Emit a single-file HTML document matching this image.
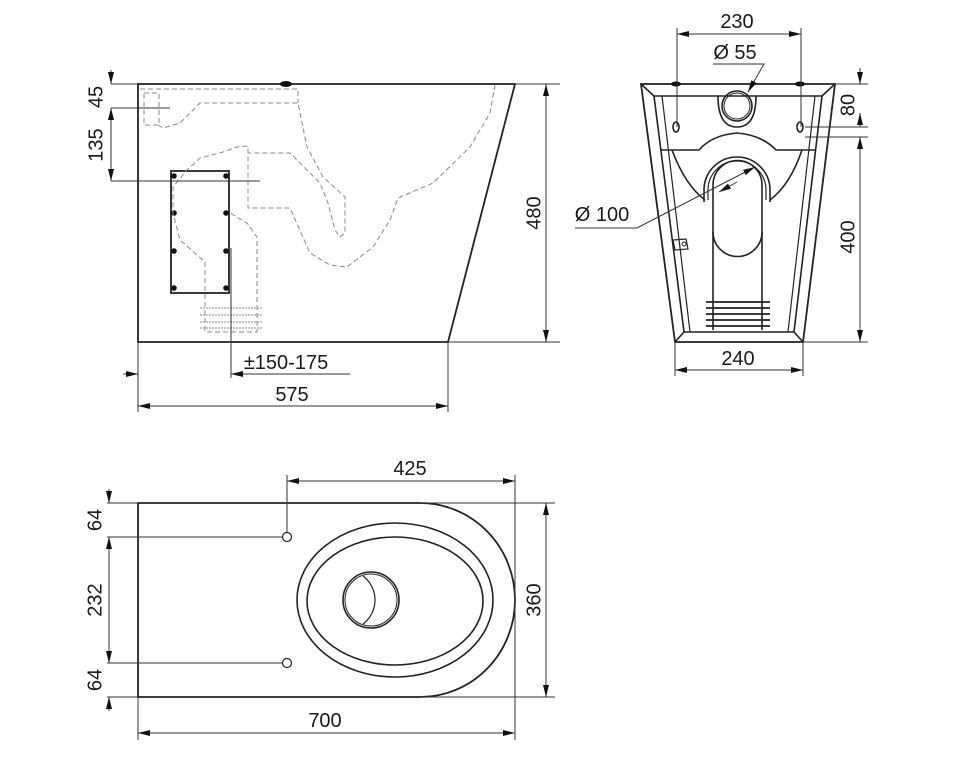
<!DOCTYPE html>
<html><head><meta charset="utf-8"><style>
html,body{margin:0;padding:0;background:#fff}
svg{display:block}
text{font-family:"Liberation Sans",sans-serif;font-size:20px;fill:#1a1a1a}
</style></head><body>
<svg width="964" height="777" viewBox="0 0 964 777" xmlns="http://www.w3.org/2000/svg">
<defs>
<marker id="a" viewBox="0 0 12 6" refX="12" refY="3" markerWidth="12" markerHeight="6" orient="auto-start-reverse" markerUnits="userSpaceOnUse"><path d="M0,0L12,3L0,6z" fill="#111"/></marker>
</defs>
<g stroke="#222" fill="none" stroke-width="1.6">
<path d="M138,84 L515,84 L448,342 L138,342 Z" stroke-width="1.8"/>
<rect x="171" y="171" width="58" height="122" stroke-width="1.8"/>
</g>
<g fill="#111">
<circle cx="174" cy="176" r="2.8"/><circle cx="226" cy="176" r="2.8"/>
<circle cx="174" cy="213" r="2.8"/><circle cx="226" cy="213" r="2.8"/>
<circle cx="174" cy="251" r="2.8"/><circle cx="226" cy="251" r="2.8"/>
<circle cx="174" cy="288" r="2.8"/><circle cx="226" cy="288" r="2.8"/>
<ellipse cx="286" cy="84" rx="6" ry="3"/>
</g>
<g stroke="#888" fill="none" stroke-width="1" stroke-dasharray="5,3">
<path d="M140,89 L298,89 L298,103"/>
<path d="M144,93 L159,93 L159,125 L144,125 Z"/>
<path d="M158,125 L163,128 L180,123 L200,103 L298,103 L307,147 L323,177 L345,197 L345,233 L340,237 L335,230 L328,203 L320,183 L290,153 L248,153"/>
<path d="M495,85 L490,113 L470,147 L433,183 L398,198 L390,220 L373,247 L347,267 L330,265 L310,253 L290,208 L248,208 L248,146 L237,147 L223,152 L200,158 L187,170 L173,187 L173,213 L180,240 L205,262 L205,332 L257,332 L257,237 L247,223 L230,213"/>
<path d="M200,308H262M200,315H262M200,322H262M200,328H262" stroke-dasharray="2,1"/>
</g>
<g stroke="#333" fill="none" stroke-width="1">
<path d="M111,84 H138 M111,108 H170 M111,181 H260"/>
<path d="M111,70 V84" marker-end="url(#a)"/>
<path d="M111,108 V181" marker-start="url(#a)" marker-end="url(#a)"/>
<path d="M515,84 H560 M448,342 H560"/>
<path d="M546,84 V342" marker-start="url(#a)" marker-end="url(#a)"/>
<path d="M138,342 V412 M448,342 V412 M231,248 V378"/>
<path d="M138,406 H448" marker-start="url(#a)" marker-end="url(#a)"/>
<path d="M123,374 H138" marker-end="url(#a)"/>
<path d="M231,374 H350" marker-start="url(#a)"/>
</g>
<text x="97" y="97" transform="rotate(-90 97 97)" text-anchor="middle" dominant-baseline="middle">45</text>
<text x="97" y="145" transform="rotate(-90 97 145)" text-anchor="middle" dominant-baseline="middle">135</text>
<text x="535" y="213" transform="rotate(-90 535 213)" text-anchor="middle" dominant-baseline="middle">480</text>
<text x="286" y="369" text-anchor="middle">±150-175</text>
<text x="292" y="401" text-anchor="middle">575</text>

<g stroke="#222" fill="none" stroke-width="1.6">
<path d="M641,84 L835,84 L803,342 L675,342 Z" stroke-width="1.8"/>
<path d="M654,96 L822,96 L794,332 L684,332 Z"/>
<path d="M641,84 L654,96 M835,84 L822,96 M803,342 L794,332 M675,342 L684,332"/>
<path d="M662,96 L690,332 M815,96 L788,332" stroke-width="1.2"/>
<path d="M718,96 Q718,127 737,127 Q756,127 756,96"/>
<circle cx="737" cy="106" r="15"/><circle cx="737" cy="106" r="13" stroke-width="1"/>
<ellipse cx="676" cy="127" rx="3" ry="5"/><ellipse cx="800" cy="127" rx="3" ry="5"/>
<path d="M661,150 L699,150 Q712,135 737,133 Q762,135 776,150 L815,150"/>
<path d="M672,150 Q685,185 705,200 M802,150 Q790,185 770,200"/>
<path d="M704,202 V190 A33,33 0 0 1 770,190 V202"/>
<path d="M708,200 V190 A29,29 0 0 1 766,190 V200" stroke-width="1.2"/>
<path d="M713,330 V185 A24.5,24.5 0 0 1 762,185 V330"/>
<path d="M713,232 A24.5,24.5 0 0 0 762,232"/>
<path d="M706,302H770M706,308H770M706,314H770M706,320H770M706,326H770" stroke-width="1.8"/>
<path d="M673,240 L686,239 L688,249 L675,250 Z" stroke-width="1.2"/>
<circle cx="684" cy="244" r="2" stroke-width="1"/>
</g>
<g fill="#111"><ellipse cx="676" cy="84" rx="5" ry="2.5"/><ellipse cx="800" cy="84" rx="5" ry="2.5"/></g>
<g stroke="#333" fill="none" stroke-width="1">
<path d="M677,28 V127 M801,28 V127"/>
<path d="M677,34 H801" marker-start="url(#a)" marker-end="url(#a)"/>
<path d="M713,64 H764 L748,92" marker-end="url(#a)"/>
<path d="M835,84 H868 M805,127 H868 M805,137 H868 M803,342 H868"/>
<path d="M860,68 V84" marker-end="url(#a)"/>
<path d="M860,127 V113" marker-end="url(#a)"/>
<path d="M860,137 V342" marker-start="url(#a)" marker-end="url(#a)"/>
<path d="M675,342 V376 M803,342 V376"/>
<path d="M675,370 H803" marker-start="url(#a)" marker-end="url(#a)"/>
<path d="M575,228 H637 L755,167" marker-end="url(#a)"/>
<path d="M737,182 L719,192" marker-end="url(#a)"/>
</g>
<text x="737" y="28" text-anchor="middle">230</text>
<text x="735" y="59" text-anchor="middle">Ø 55</text>
<text x="849" y="105" transform="rotate(-90 849 105)" text-anchor="middle" dominant-baseline="middle">80</text>
<text x="849" y="237" transform="rotate(-90 849 237)" text-anchor="middle" dominant-baseline="middle">400</text>
<text x="738" y="365" text-anchor="middle">240</text>
<text x="602" y="221" text-anchor="middle">Ø 100</text>

<g stroke="#222" fill="none" stroke-width="1.6">
<path d="M138,503 H420 A95,97 0 0 1 420,697 H138 Z" stroke-width="1.8"/>
<ellipse cx="395" cy="600" rx="98" ry="77"/>
<ellipse cx="395" cy="601" rx="88" ry="64"/>
<circle cx="371" cy="600" r="28"/><circle cx="371" cy="600" r="26" stroke-width="1"/>
<path d="M363,576 A30,30 0 0 1 363,624" stroke-width="1.2"/>
<circle cx="287" cy="537" r="4.5" stroke-width="1.2"/>
<circle cx="287" cy="663" r="4.5" stroke-width="1.2"/>
</g>
<g stroke="#333" fill="none" stroke-width="1">
<path d="M287,475 V532"/>
<path d="M515,475 V740"/>
<path d="M287,481 H515" marker-start="url(#a)" marker-end="url(#a)"/>
<path d="M138,697 V740"/>
<path d="M138,733 H515" marker-start="url(#a)" marker-end="url(#a)"/>
<path d="M420,503 H555 M420,697 H555"/>
<path d="M546,503 V697" marker-start="url(#a)" marker-end="url(#a)"/>
<path d="M107,503 H138 M107,537 H282 M107,663 H282 M107,697 H138"/>
<path d="M109,489 V503" marker-end="url(#a)"/>
<path d="M109,537 V663" marker-start="url(#a)" marker-end="url(#a)"/>
<path d="M109,711 V697" marker-end="url(#a)"/>
</g>
<text x="410" y="475" text-anchor="middle">425</text>
<text x="325" y="727" text-anchor="middle">700</text>
<text x="535" y="600" transform="rotate(-90 535 600)" text-anchor="middle" dominant-baseline="middle">360</text>
<text x="96" y="520" transform="rotate(-90 96 520)" text-anchor="middle" dominant-baseline="middle">64</text>
<text x="96" y="600" transform="rotate(-90 96 600)" text-anchor="middle" dominant-baseline="middle">232</text>
<text x="96" y="680" transform="rotate(-90 96 680)" text-anchor="middle" dominant-baseline="middle">64</text>
</svg>
</body></html>
